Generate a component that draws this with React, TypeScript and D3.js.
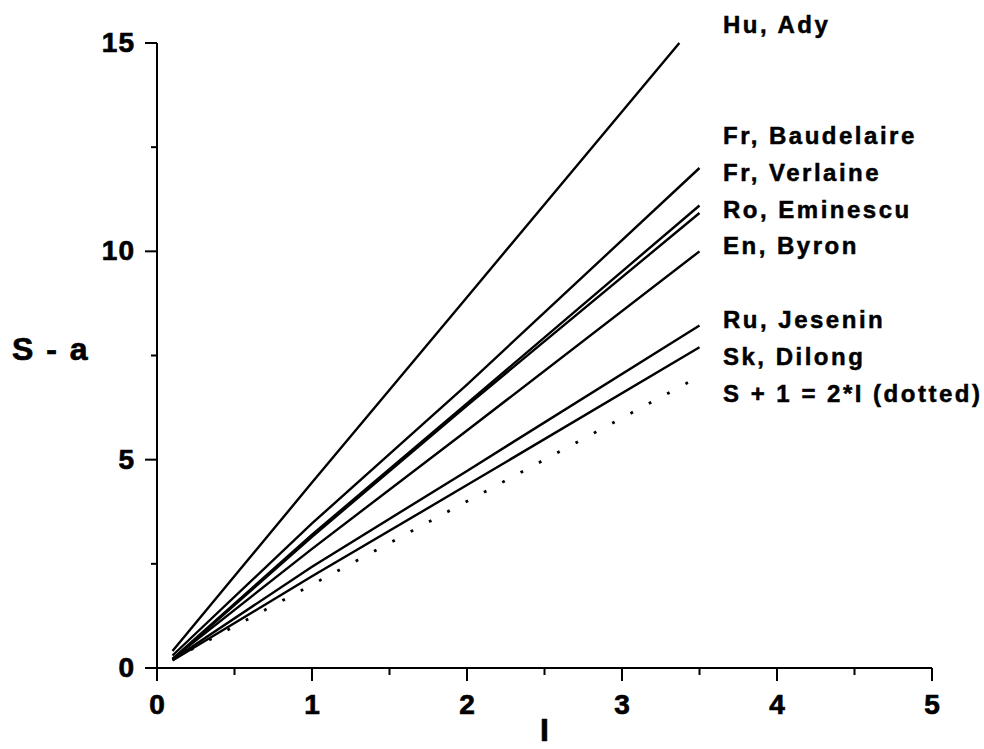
import React, { useEffect, useRef } from 'react';
import * as d3 from 'd3';

// series names, top to bottom as listed on the right
const seriesNames = [
  'Hu, Ady',
  'Fr, Baudelaire',
  'Fr, Verlaine',
  'Ro, Eminescu',
  'En, Byron',
  'Ru, Jesenin',
  'Sk, Dilong',
  'S + 1 = 2*I (dotted)',
];

// [I, S - a] points
const huAdy = [[0.1, 0.41], [1, 4.45], [2, 8.9], [3.37, 15]];
const frBaudelaire = [[0.1, 0.3], [1, 3.47], [2, 6.8], [3.5, 12.0]];
const frVerlaine = [[0.1, 0.22], [1, 3.2], [2, 6.35], [3.5, 11.1]];
const roEminescu = [[0.1, 0.2], [1, 3.15], [2, 6.3], [3.5, 10.92]];
const enByron = [[0.1, 0.22], [1, 2.86], [2, 5.7], [3.5, 10.0]];
const ruJesenin = [[0.1, 0.2], [1, 2.43], [2, 4.73], [3.5, 8.22]];
const skDilong = [[0.1, 0.18], [1, 2.2], [2, 4.39], [3.5, 7.7]];
const reference = [[0.1, 0.2], [3.5, 7.0]];

const seriesData = [huAdy, frBaudelaire, frVerlaine, roEminescu, enByron, ruJesenin, skDilong, reference];

const xTicks = [0, 1, 2, 3, 4, 5];
const xMinorTicks = [0.5, 1.5, 2.5, 3.5, 4.5];
const yTicks = [0, 5, 10, 15];
const yMinorTicks = [2.5, 7.5, 12.5];

// label rows on the right (row index, blanks skipped)
const labelRows = [0, 3, 4, 5, 6, 8, 9, 10];

const FONT = '"Liberation Sans", Arial, sans-serif';

const Chart = () => {
  const ref = useRef<SVGSVGElement>(null);

  useEffect(() => {
    const svg = d3.select(ref.current);
    svg.selectAll('*').remove();

    const x = d3.scaleLinear().domain([0, 5]).range([157, 932]);
    const y = d3.scaleLinear().domain([0, 15]).range([668, 43]);

    const g = svg.append('g');

    // axes lines
    g.append('line').attr('x1', x(0)).attr('x2', x(5)).attr('y1', y(0)).attr('y2', y(0))
      .attr('stroke', '#000').attr('stroke-width', 2);
    g.append('line').attr('x1', x(0)).attr('x2', x(0)).attr('y1', y(0)).attr('y2', y(15))
      .attr('stroke', '#000').attr('stroke-width', 2);

    // x ticks
    g.append('g').selectAll('line').data(xTicks).join('line')
      .attr('x1', (d) => x(d)).attr('x2', (d) => x(d))
      .attr('y1', y(0)).attr('y2', y(0) + 13)
      .attr('stroke', '#000').attr('stroke-width', 2);
    g.append('g').selectAll('line').data(xMinorTicks).join('line')
      .attr('x1', (d) => x(d)).attr('x2', (d) => x(d))
      .attr('y1', y(0)).attr('y2', y(0) + 7)
      .attr('stroke', '#000').attr('stroke-width', 2);
    g.append('g').selectAll('text').data(xTicks).join('text')
      .attr('x', (d) => x(d)).attr('y', 714)
      .attr('text-anchor', 'middle')
      .style('font', `bold 28px ${FONT}`)
      .attr('stroke', '#000').attr('stroke-width', 0.7)
      .text((d) => d);

    // y ticks
    g.append('g').selectAll('line').data(yTicks).join('line')
      .attr('x1', x(0) - 12).attr('x2', x(0))
      .attr('y1', (d) => y(d)).attr('y2', (d) => y(d))
      .attr('stroke', '#000').attr('stroke-width', 2);
    g.append('g').selectAll('line').data(yMinorTicks).join('line')
      .attr('x1', x(0) - 6).attr('x2', x(0))
      .attr('y1', (d) => y(d)).attr('y2', (d) => y(d))
      .attr('stroke', '#000').attr('stroke-width', 2);
    g.append('g').selectAll('text').data(yTicks).join('text')
      .attr('x', 135).attr('y', (d) => y(d) + 9)
      .attr('text-anchor', 'end')
      .style('font', `bold 28px ${FONT}`)
      .style('letter-spacing', '1px')
      .attr('stroke', '#000').attr('stroke-width', 0.7)
      .text((d) => d);

    // axis titles
    g.append('text').attr('x', 12).attr('y', 360)
      .style('font', `bold 32px ${FONT}`).style('letter-spacing', '2px')
      .attr('stroke', '#000').attr('stroke-width', 0.7)
      .text('S - a');
    g.append('text').attr('x', x(2.5)).attr('y', 741).attr('text-anchor', 'middle')
      .style('font', `bold 32px ${FONT}`)
      .attr('stroke', '#000').attr('stroke-width', 0.7)
      .text('I');

    // lines
    const line = d3.line<number[]>().x((d) => x(d[0])).y((d) => y(d[1]));
    g.append('g').selectAll('path').data(seriesData).join('path')
      .attr('d', (d) => line(d))
      .attr('fill', 'none')
      .attr('stroke', '#000')
      .attr('stroke-width', (d, i) => (i === seriesData.length - 1 ? 2.8 : 2.4))
      .attr('stroke-dasharray', (d, i) => (i === seriesData.length - 1 ? '2.8 18' : null));

    // labels
    g.append('g').selectAll('text').data(seriesNames).join('text')
      .attr('x', 723).attr('y', (d, i) => 33 + labelRows[i] * 36.9)
      .style('font', `bold 24px ${FONT}`)
      .style('letter-spacing', '2.5px')
      .attr('stroke', '#000').attr('stroke-width', 0.5)
      .text((d) => d);
  }, []);

  return (
    <svg ref={ref} width={984} height={749}
      style={{ position: 'absolute', left: 0, top: 0, background: '#fff' }} />
  );
};

export default function App() {
  return <Chart />;
}
